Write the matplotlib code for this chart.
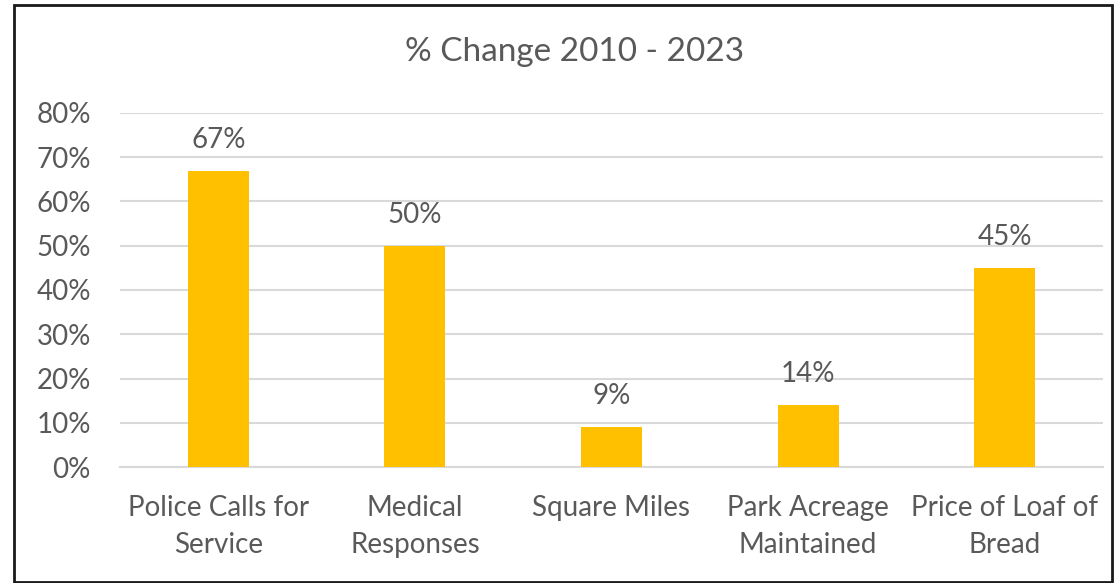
import matplotlib
matplotlib.use("Agg")
import matplotlib.pyplot as plt
from matplotlib.patches import Rectangle
from matplotlib.ticker import PercentFormatter

categories = ["Police Calls for\nService", "Medical\nResponses", "Square Miles",
              "Park Acreage\nMaintained", "Price of Loaf of\nBread"]
values = [67, 50, 9, 14, 45]
labels = ["67%", "50%", "9%", "14%", "45%"]
yticks = [0, 10, 20, 30, 40, 50, 60, 70, 80]

plt.rcParams['font.family'] = ['Lato', 'DejaVu Sans']
txt = "#595959"

fig = plt.figure(figsize=(11.17, 5.83), dpi=100)
ax = fig.add_axes([120/1117, 1-467/583, (1103-120)/1117, (467-113)/583])

x = list(range(len(categories)))
ax.bar(x, values, width=0.31, color="#FFC000", zorder=3)
for xi, v, l in zip(x, values, labels):
    ax.text(xi, v + 4.0, l, ha="center", va="bottom", fontsize=20, color=txt)

ax.set_xlim(-0.5, len(categories) - 0.5)
ax.set_ylim(0, 80)
ax.set_yticks(yticks)
ax.yaxis.set_major_formatter(PercentFormatter(decimals=0))
ax.set_xticks(x)
ax.set_xticklabels(categories, fontsize=20, color=txt, linespacing=1.55)
ax.tick_params(axis="y", labelsize=20, labelcolor=txt, length=0, pad=21)
ax.tick_params(axis="x", length=0, pad=20)
ax.grid(axis="y", color="#D9D9D9", linewidth=1.5, zorder=0)
for s in ["top", "right", "left"]:
    ax.spines[s].set_visible(False)
ax.spines["bottom"].set_color("#D9D9D9")
ax.spines["bottom"].set_linewidth(1.5)

fig.text(575/1117, 1-52/583, "% Change 2010 - 2023", ha="center", va="center",
         fontsize=24, color=txt)

fig.patches.append(Rectangle((14/1117, 1-582/583), (1112-14)/1117, (582-5)/583,
                             transform=fig.transFigure, fill=False,
                             edgecolor="#1a1a1a", linewidth=2))

fig.savefig("out.png", dpi=100, facecolor="white")
